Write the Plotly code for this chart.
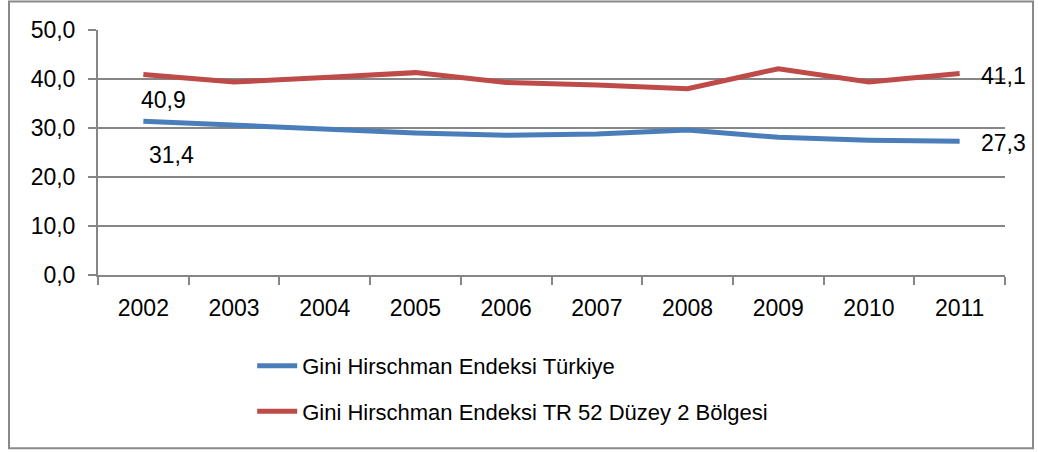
import plotly.graph_objects as go

years = ["2002", "2003", "2004", "2005", "2006", "2007", "2008", "2009", "2010", "2011"]
turkiye = [31.4, 30.6, 30.0, 29.0, 28.5, 28.8, 29.6, 28.1, 27.5, 27.3]
tr52 = [40.9, 39.4, 40.3, 41.3, 39.3, 38.8, 38.0, 42.1, 39.4, 41.1]
name_tr = "Gini Hirschman Endeksi Türkiye"
name_tr52 = "Gini Hirschman Endeksi TR 52 Düzey 2 Bölgesi"

FONT = "Liberation Sans, Arial, sans-serif"
BLUE = "#4A7EBB"
RED = "#BE4B48"
GRID = "#868686"
FS = 23

fig = go.Figure()
fig.add_trace(go.Scatter(x=years, y=turkiye, mode="lines", name=name_tr,
                         line=dict(color=BLUE, width=5), legendgroup="a"))
fig.add_trace(go.Scatter(x=years, y=tr52, mode="lines", name=name_tr52,
                         line=dict(color=RED, width=5), legendgroup="b"))

def lab(v):
    return f"{v:.1f}".replace(".", ",")

first = 0
last = len(years) - 1
ann = [
    dict(x=first, y=tr52[first], text=lab(tr52[first]), xshift=20, yshift=-25),
    dict(x=first, y=turkiye[first], text=lab(turkiye[first]), xshift=28, yshift=-34),
    dict(x=last, y=tr52[last], text=lab(tr52[last]), xshift=44, yshift=-2),
    dict(x=last, y=turkiye[last], text=lab(turkiye[last]), xshift=44, yshift=-2),
]
for a in ann:
    a.update(xref="x", yref="y", showarrow=False, font=dict(family=FONT, size=FS, color="#000"))

fig.update_layout(
    width=1038, height=452,
    margin=dict(l=98, r=33, t=30, b=177),
    paper_bgcolor="white", plot_bgcolor="white",
    font=dict(family=FONT, size=FS, color="#000"),
    separators=",.",
    annotations=ann,
    showlegend=True,
    legend=dict(x=0.170, y=-0.285, xanchor="left", yanchor="top",
                orientation="v", traceorder="grouped", tracegroupgap=14,
                font=dict(family=FONT, size=22), itemwidth=40),
    shapes=[dict(type="rect", xref="paper", yref="paper",
                 x0=-0.0981, x1=1.0309, y0=-0.707, y1=1.116,
                 line=dict(color="#898989", width=2))],
)
fig.update_xaxes(type="category", range=[-0.5, len(years) - 0.5],
                 tickson="boundaries", ticks="outside", ticklen=8,
                 tickcolor=GRID, tickwidth=2, showline=True, linecolor=GRID, linewidth=2,
                 showgrid=False, tickfont=dict(size=FS), tickangle=0, ticklabelstandoff=11)
fig.update_yaxes(range=[0, 50], dtick=10, tickformat=".1f", ticks="outside", ticklen=8,
                 tickcolor=GRID, tickwidth=2, showline=True, linecolor=GRID, linewidth=2,
                 showgrid=True, gridcolor=GRID, gridwidth=2, zeroline=False,
                 tickfont=dict(size=FS), ticklabelstandoff=8)

fig.write_html("out.html", config={"displayModeBar": False},
               post_script="document.body.style.margin='0';")
